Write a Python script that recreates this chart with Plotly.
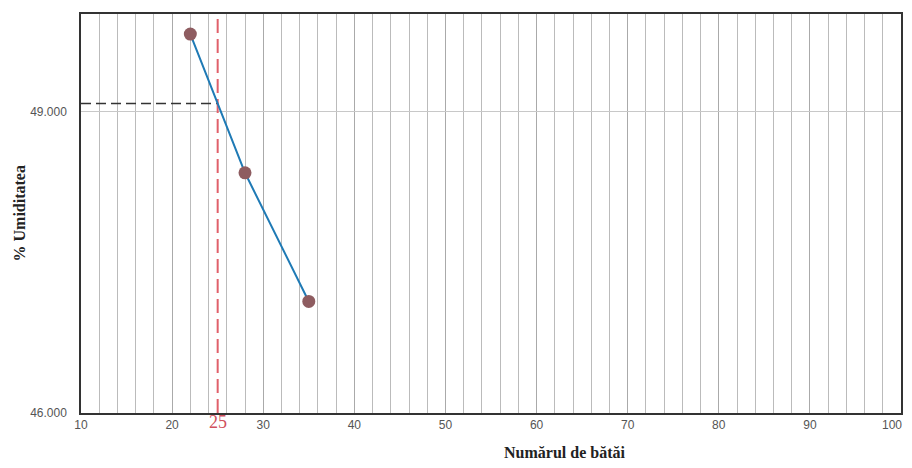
import numpy as np
import plotly.graph_objects as go

# Data
blows = [22, 28, 35]
moisture = [49.77, 48.39, 47.11]
target_blows = 25
x_ticks = [10, 20, 30, 40, 50, 60, 70, 80, 90, 100]
y_ticks = [46.0, 49.0]
y_min, y_max = 46.0, 49.97

# liquid limit at 25 blows, interpolated from the measured line
ll = float(np.interp(target_blows, blows, moisture))

fig = go.Figure()

# horizontal dashed black guide at LL
fig.add_trace(go.Scatter(
    x=[x_ticks[0], target_blows], y=[ll, ll], mode="lines",
    line=dict(color="#333333", width=1.5, dash="10px,5px"),
    showlegend=False, hoverinfo="skip"))

# vertical dashed red guide at 25 blows
fig.add_trace(go.Scatter(
    x=[target_blows, target_blows], y=[y_min, y_max], mode="lines",
    line=dict(color="#e0606a", width=2, dash="14px,6px"),
    showlegend=False, hoverinfo="skip"))

# measured points
fig.add_trace(go.Scatter(
    x=blows, y=moisture, mode="lines+markers",
    line=dict(color="#1f7ab5", width=2),
    marker=dict(size=13, color="#8e5c60", line=dict(width=0)),
    showlegend=False))

fig.add_annotation(
    x=target_blows, xref="x", y=0, yref="paper", yshift=-9,
    yanchor="middle", text="25", showarrow=False,
    font=dict(family="Liberation Serif", size=18, color="#d0505c"))

# last x tick label, kept inside the visible page edge
fig.add_annotation(
    x=x_ticks[-1], xref="x", y=0, yref="paper", yshift=-3, xshift=3,
    xanchor="right", yanchor="top", text=str(x_ticks[-1]), showarrow=False,
    font=dict(family="Liberation Sans", size=12, color="#555555"))

fig.add_annotation(
    x=0.59, xref="paper", y=0, yref="paper", yshift=-39,
    yanchor="middle", xanchor="center", showarrow=False,
    text="<b>Numărul de bătăi</b>",
    font=dict(family="Liberation Serif", size=16, color="#222222"))

fig.add_annotation(
    x=0, xref="paper", y=0.5, yref="paper", xshift=-62,
    xanchor="center", yanchor="middle", textangle=-90, showarrow=False,
    text="<b>% Umiditatea</b>",
    font=dict(family="Liberation Serif", size=16, color="#222222"))

fig.update_layout(
    width=904, height=452,
    margin=dict(l=73, r=11, t=6, b=47, autoexpand=False),
    paper_bgcolor="white", plot_bgcolor="white",
    font=dict(family="Liberation Sans", size=12, color="#555555"),
)

fig.update_xaxes(
    range=[x_ticks[0], x_ticks[-1]], tickvals=x_ticks[:-1],
    ticktext=[str(v) for v in x_ticks[:-1]],
    showgrid=True, gridcolor="#aaaaaa", gridwidth=1,
    minor=dict(dtick=2, tick0=10, showgrid=True, gridcolor="#bbbbbb", gridwidth=1),
    showline=True, linecolor="#333333", linewidth=1.5, mirror=True,
    ticks="", tickfont=dict(size=12, color="#555555"),
    automargin=False, zeroline=False)

fig.update_yaxes(
    range=[y_min, y_max], tickvals=y_ticks, tickformat=".3f",
    showgrid=True, gridcolor="#c8c8c8", gridwidth=1,
    showline=True, linecolor="#333333", linewidth=1.5, mirror=True,
    ticks="", tickfont=dict(size=12, color="#555555"),
    ticklabelstandoff=10,
    automargin=False, zeroline=False)

fig.write_html("out.html")
